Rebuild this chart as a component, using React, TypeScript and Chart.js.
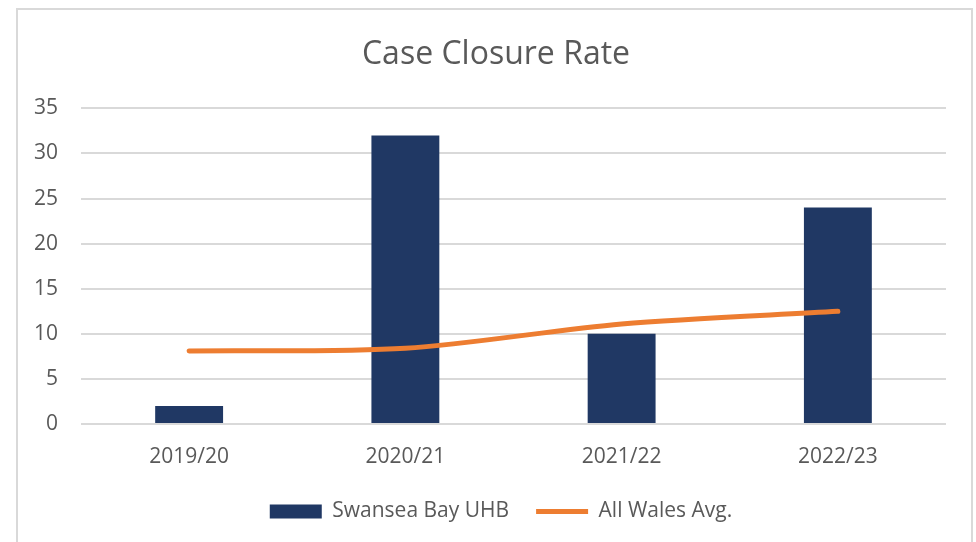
import React, { useEffect, useRef } from "react";
import { Chart, registerables } from "chart.js";

Chart.register(...registerables);

const categories = ["2019/20", "2020/21", "2021/22", "2022/23"];
const swanseaBay = [2, 32, 10, 24];
const allWalesAvg = [8.1, 8.4, 11.1, 12.5];
const yTicks = [0, 5, 10, 15, 20, 25, 30, 35];

const FONT = "'Open Sans', 'Noto Sans', sans-serif";
const TEXT = "#595959";

const shiftPlugin = {
  id: "shiftBlocks",
  afterLayout(chart: any) {
    if (chart.legend) {
      chart.legend.left += 13;
      chart.legend.right += 13;
      chart.legend.top -= 10;
      chart.legend.bottom -= 10;
    }
    if (chart.titleBlock) {
      chart.titleBlock.left += 8;
      chart.titleBlock.right += 8;
    }
  },
};

export default function App() {
  const ref = useRef<HTMLCanvasElement | null>(null);

  useEffect(() => {
    if (!ref.current) return;
    const chart = new Chart(ref.current, {
      type: "bar",
      data: {
        labels: categories,
        datasets: [
          {
            type: "bar",
            label: "Swansea Bay UHB",
            data: swanseaBay,
            backgroundColor: "#203864",
            borderWidth: 0,
            categoryPercentage: 1,
            barPercentage: 0.314,
            order: 2,
            pointStyle: "rect",
          } as any,
          {
            type: "line",
            label: "All Wales Avg.",
            data: allWalesAvg,
            borderColor: "#ED7D31",
            backgroundColor: "#ED7D31",
            borderWidth: 5,
            borderCapStyle: "round",
            borderJoinStyle: "round",
            tension: 0.3,
            pointRadius: 0,
            pointHoverRadius: 0,
            order: 1,
            pointStyle: "line",
          } as any,
        ],
      },
      plugins: [shiftPlugin],
      options: {
        animation: false,
        responsive: false,
        maintainAspectRatio: false,
        layout: { padding: { left: 30, right: 30, top: 36, bottom: 0 } },
        plugins: {
          title: {
            display: true,
            text: "Case Closure Rate",
            color: TEXT,
            font: { family: FONT, size: 32, weight: "normal" },
            padding: { top: 0, bottom: 34 },
          },
          legend: {
            position: "bottom",
            labels: {
              color: TEXT,
              font: { family: FONT, size: 21 },
              usePointStyle: true,
              pointStyleWidth: 52,
              boxHeight: 14,
              padding: 27,
              sort: (a: any, b: any) => a.datasetIndex - b.datasetIndex,
            },
          },
          tooltip: { enabled: false },
        },
        scales: {
          x: {
            grid: { display: false, drawTicks: false },
            border: { display: false },
            ticks: {
              color: TEXT,
              font: { family: FONT, size: 21 },
              padding: 20,
            },
            afterFit: (scale: any) => {
              scale.height = 60;
            },
          },
          y: {
            min: 0,
            max: 35,
            afterBuildTicks: (scale: any) => {
              scale.ticks = yTicks.map((v) => ({ value: v }));
            },
            grid: { color: "#d9d9d9", lineWidth: 2, drawTicks: false },
            border: { display: false },
            ticks: {
              color: TEXT,
              font: { family: FONT, size: 21 },
              padding: 23,
            },
            afterFit: (scale: any) => {
              scale.width = 51;
            },
          },
        },
      },
    });
    return () => chart.destroy();
  }, []);

  return (
    <div style={{ position: "absolute", left: 0, top: 0, width: 976, height: 542, overflow: "hidden", background: "#fff" }}>
      <div
        style={{
          position: "absolute",
          left: 16,
          top: 8,
          width: 957,
          height: 560,
          border: "2px solid #d9d9d9",
          boxSizing: "border-box",
        }}
      />
      <canvas ref={ref} width={976} height={542} style={{ position: "absolute", left: 0, top: 0 }} />
    </div>
  );
}
